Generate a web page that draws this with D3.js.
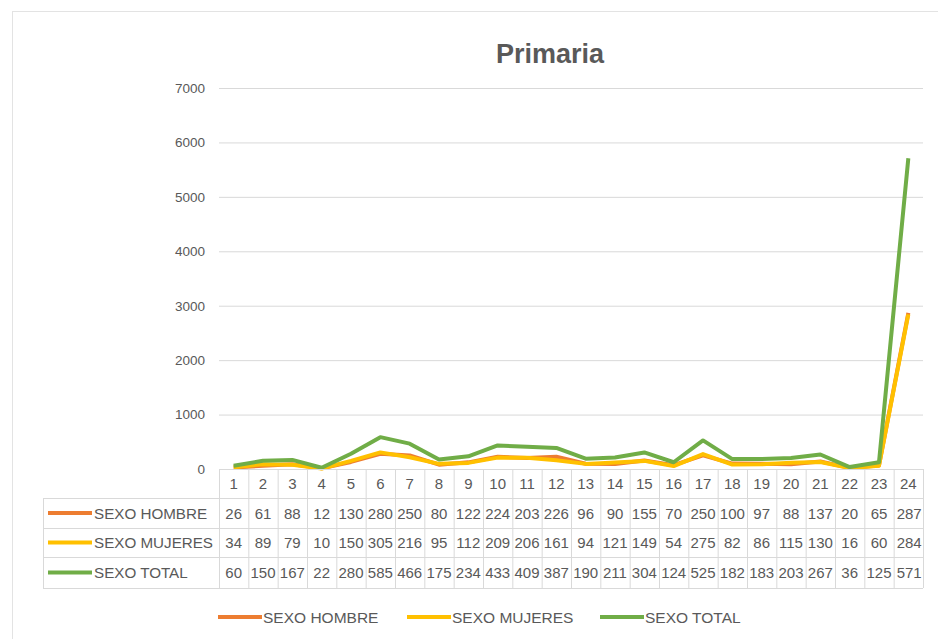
<!DOCTYPE html>
<html>
<head>
<meta charset="utf-8">
<script src="https://cdn.jsdelivr.net/npm/d3@7"></script>
<style>
  body { margin: 0; background: #fff; }
  text { font-family: "Liberation Sans", Arial, sans-serif; fill: #595959; }
</style>
</head>
<body>
<div id="chart"></div>
<script>
const categories = d3.range(1, 25).map(String);
const hombre  = [26, 61, 88, 12, 130, 280, 250, 80, 122, 224, 203, 226, 96, 90, 155, 70, 250, 100, 97, 88, 137, 20, 65, 2870];
const mujeres = [34, 89, 79, 10, 150, 305, 216, 95, 112, 209, 206, 161, 94, 121, 149, 54, 275, 82, 86, 115, 130, 16, 60, 2840];
const total   = [60, 150, 167, 22, 280, 585, 466, 175, 234, 433, 409, 387, 190, 211, 304, 124, 525, 182, 183, 203, 267, 36, 125, 5710];
const yTicks  = [0, 1000, 2000, 3000, 4000, 5000, 6000, 7000];

const series = [
  {name: "SEXO HOMBRE", values: hombre, color: "#ED7D31"},
  {name: "SEXO MUJERES", values: mujeres, color: "#FFC000"},
  {name: "SEXO TOTAL", values: total, color: "#70AD47"}
];

const W = 938, H = 639;
const plot = {left: 219, right: 923, top: 88, bottom: 469};
const grid = "#d9d9d9";

const svg = d3.select("#chart").append("svg")
    .attr("width", W)
    .attr("height", H);

// chart frame
svg.append("rect")
    .attr("x", 12.5).attr("y", 11.5)
    .attr("width", W).attr("height", H)
    .attr("fill", "#fff")
    .attr("stroke", "#e3e3e3");

// title
svg.append("text")
    .attr("x", 550).attr("y", 63)
    .attr("text-anchor", "middle")
    .attr("font-size", "27px")
    .attr("font-weight", "bold")
    .text("Primaria");

const x = d3.scaleBand().domain(categories).range([plot.left, plot.right]);
const y = d3.scaleLinear().domain([0, 7000]).range([plot.bottom, plot.top]);

// y axis + gridlines
const yAxis = svg.append("g")
    .attr("transform", "translate(" + plot.left + ",0)")
    .call(d3.axisLeft(y).tickValues(yTicks).tickFormat(d3.format("d"))
      .tickSize(-(plot.right - plot.left)).tickPadding(14));
yAxis.select(".domain").remove();
yAxis.selectAll(".tick line").attr("stroke", grid);
yAxis.selectAll(".tick text")
    .attr("font-family", "Liberation Sans, Arial, sans-serif")
    .attr("font-size", "13.5px")
    .attr("fill", "#595959");

// lines
const line = d3.line()
    .x((d, i) => x(categories[i]) + x.bandwidth() / 2)
    .y(d => y(d));

svg.selectAll(".series")
    .data(series)
    .enter().append("path")
    .attr("class", "series")
    .attr("d", d => line(d.values))
    .attr("fill", "none")
    .attr("stroke", d => d.color)
    .attr("stroke-width", 4)
    .attr("stroke-linejoin", "round");

// data table under the plot
const rowTop = 469, rowH = [29, 30, 29, 31];
const rowY = [rowTop];
rowH.forEach(h => rowY.push(rowY[rowY.length - 1] + h));
const tableLeft = 43;

const table = svg.append("g");

table.append("defs").append("clipPath").attr("id", "tclip")
  .append("rect")
    .attr("x", tableLeft).attr("y", rowTop)
    .attr("width", plot.right - tableLeft - 1).attr("height", rowY[4] - rowTop);

// horizontal rules
rowY.forEach((yy, i) => {
  table.append("line")
      .attr("x1", i === 0 ? plot.left : tableLeft).attr("x2", plot.right)
      .attr("y1", yy + 0.5).attr("y2", yy + 0.5)
      .attr("stroke", grid);
});
// vertical rules
table.append("line")
    .attr("x1", tableLeft + 0.5).attr("x2", tableLeft + 0.5)
    .attr("y1", rowY[1]).attr("y2", rowY[4])
    .attr("stroke", grid);
categories.concat(["end"]).forEach((c, i) => {
  const xx = i < categories.length ? x(c) : plot.right;
  table.append("line")
      .attr("x1", xx + 0.5).attr("x2", xx + 0.5)
      .attr("y1", rowY[0]).attr("y2", rowY[4])
      .attr("stroke", grid);
});

// category labels
table.selectAll(".cat")
    .data(categories)
    .enter().append("text")
    .attr("class", "cat")
    .attr("x", d => x(d) + x.bandwidth() / 2)
    .attr("y", (rowY[0] + rowY[1]) / 2 + 5)
    .attr("text-anchor", "middle")
    .attr("font-size", "15px")
    .text(d => d);

const body = table.append("g").attr("clip-path", "url(#tclip)");

series.forEach((s, r) => {
  const cy = (rowY[r + 1] + rowY[r + 2]) / 2;
  body.append("line")
      .attr("x1", 48).attr("x2", 92)
      .attr("y1", cy).attr("y2", cy)
      .attr("stroke", s.color)
      .attr("stroke-width", 4);
  body.append("text")
      .attr("x", 94).attr("y", cy + 5.5)
      .attr("font-size", "15.2px")
      .text(s.name);
  s.values.forEach((v, i) => {
    const cx = x(categories[i]);
    const t = body.append("text")
        .attr("y", cy + 5.5)
        .attr("font-size", "15px")
        .text(v);
    const tw = t.node().getComputedTextLength();
    if (tw > x.bandwidth()) {
      t.attr("x", cx + 3);
    } else {
      t.attr("x", cx + x.bandwidth() / 2).attr("text-anchor", "middle");
    }
  });
});

// bottom legend
const legendX = [218, 407, 600];
const legend = svg.selectAll(".legend")
    .data(series)
    .enter().append("g")
    .attr("class", "legend")
    .attr("transform", (d, i) => "translate(" + legendX[i] + ",617)");
legend.append("line")
    .attr("x1", 0).attr("x2", 44)
    .attr("stroke", d => d.color)
    .attr("stroke-width", 4);
legend.append("text")
    .attr("x", 45).attr("y", 5.5)
    .attr("font-size", "15.5px")
    .text(d => d.name);
</script>
</body>
</html>
